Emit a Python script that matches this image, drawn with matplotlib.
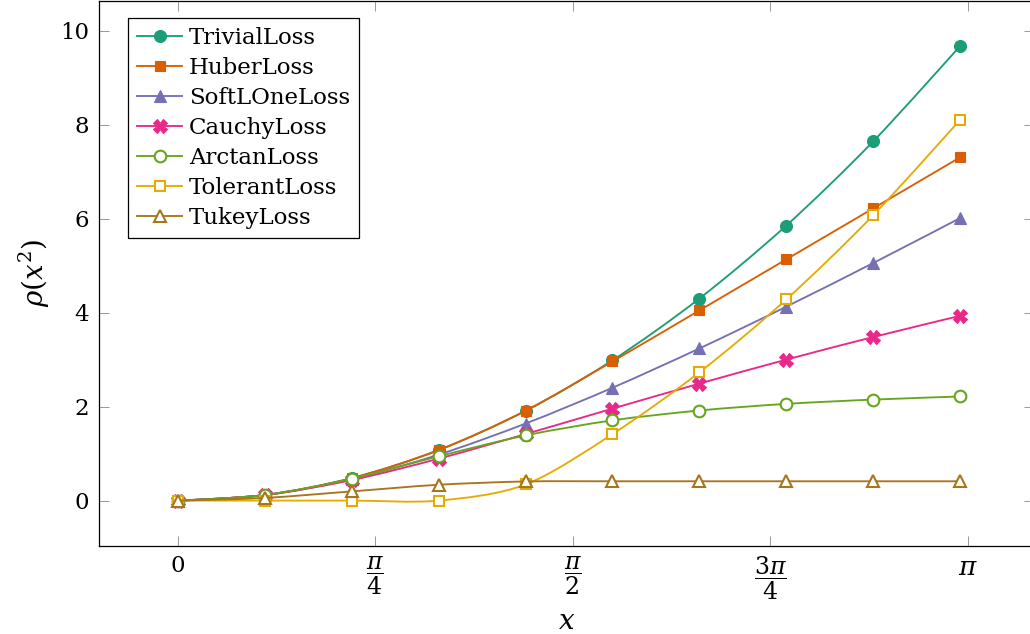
import numpy as np
import matplotlib
matplotlib.use("Agg")
import matplotlib.pyplot as plt
from matplotlib.path import Path
from matplotlib.patches import PathPatch
from matplotlib.lines import Line2D

plt.rcParams["font.family"] = ["DejaVu Serif"]
plt.rcParams["mathtext.fontset"] = "dejavuserif"

# sample points (0 .. ~3.11, 10 samples)
x = [0.0, 0.3456, 0.6911, 1.0367, 1.3822, 1.7278, 2.0733, 2.4189, 2.7644, 3.11]

trivial = [0.0, 0.119, 0.478, 1.075, 1.911, 2.985, 4.299, 5.851, 7.642, 9.672]
huber = [0.0, 0.119, 0.478, 1.075, 1.911, 2.961, 4.046, 5.132, 6.217, 7.303]
soft_l_one = [0.0, 0.118, 0.457, 0.978, 1.639, 2.401, 3.237, 4.126, 5.054, 6.011]
cauchy = [0.0, 0.117, 0.437, 0.892, 1.415, 1.957, 2.489, 2.999, 3.480, 3.931]
arctan = [0.0, 0.119, 0.464, 0.943, 1.387, 1.707, 1.917, 2.058, 2.149, 2.215]
tolerant = [0.0, 0.0, 0.0, 0.0, 0.343, 1.415, 2.728, 4.280, 6.071, 8.101]
tukey = [0.0, 0.057, 0.196, 0.337, 0.407, 0.411, 0.411, 0.411, 0.411, 0.411]

names = ["TrivialLoss", "HuberLoss", "SoftLOneLoss", "CauchyLoss",
         "ArctanLoss", "TolerantLoss", "TukeyLoss"]
series = [trivial, huber, soft_l_one, cauchy, arctan, tolerant, tukey]

colors = ["#1b9e77", "#d95f02", "#7570b3", "#e7298a", "#66a61e", "#e6ab02", "#a6761d"]
markers = ["o", "s", "^", "X", "o", "s", "^"]
msizes = [8.6, 7.8, 9.2, 9.5, 8.4, 7.6, 9.0]
filled = [True, True, True, True, False, False, False]

xticks = [0, np.pi / 4, np.pi / 2, 3 * np.pi / 4, np.pi]
xticklabels = ["$0$", r"$\dfrac{\pi}{4}$", r"$\dfrac{\pi}{2}$", r"$\dfrac{3\pi}{4}$", r"$\pi$"]
yticks = [0, 2, 4, 6, 8, 10]


def smooth_path(xs, ys, tension=0.55):
    # same idea as the tikz "smooth" plot handler
    pts = np.column_stack([xs, ys])
    f = tension * 0.2775
    n = len(pts)
    verts = [pts[0]]
    codes = [Path.MOVETO]
    for i in range(n - 1):
        p0, p1 = pts[i], pts[i + 1]
        c1 = p0 + f * (pts[i + 1] - pts[i - 1]) if i > 0 else p0
        c2 = p1 - f * (pts[i + 2] - pts[i]) if i + 2 < n else p1
        verts += [c1, c2, p1]
        codes += [Path.CURVE4] * 3
    return Path(verts, codes)


fig = plt.figure(figsize=(10.3, 6.34), dpi=100)
ax = fig.add_axes([99 / 1030, 88 / 634, 935 / 1030, 545 / 634])

fs = 16.5
lw = 1.35
handles = []
for i, (name, ys) in enumerate(zip(names, series)):
    c = colors[i]
    mfc = c if filled[i] else "white"
    mew = 0.8 if filled[i] else 1.5
    patch = PathPatch(smooth_path(x, ys), facecolor="none", edgecolor=c,
                      lw=lw, zorder=2 + i)
    ax.add_patch(patch)
    ax.plot(x, ys, ls="none", marker=markers[i], ms=msizes[i], mfc=mfc,
            mec=c, mew=mew, zorder=2.5 + i, clip_on=False)
    handles.append(Line2D([0], [0], color=c, lw=lw, marker=markers[i],
                          ms=msizes[i], mfc=mfc, mec=c, mew=mew))

ax.set_xlim(-0.314, 3.404)
ax.set_ylim(-0.966, 10.63)

ax.set_xticks(xticks)
ax.set_xticklabels(xticklabels)
ax.set_yticks(yticks)
ax.tick_params(direction="in", length=7.2, width=0.7, color="#999999",
               labelsize=fs, top=True, right=True)
ax.tick_params(axis="x", pad=6.5)
ax.tick_params(axis="y", pad=7)
xlabs = ax.get_xticklabels()
for lab in xlabs[1:4]:
    lab.set_fontsize(17)
xlabs[4].set_fontsize(19)
for sp in ax.spines.values():
    sp.set_linewidth(0.9)

ax.set_xlabel("$x$", fontsize=20, labelpad=4)
ax.set_ylabel(r"$\rho(x^2)$", fontsize=20, labelpad=6)

leg = ax.legend(handles, names, loc="upper left", bbox_to_anchor=(0.031, 0.969),
                borderaxespad=0, fontsize=fs, handlelength=1.96, handletextpad=0.3,
                labelspacing=0.35, borderpad=0.4, fancybox=False, framealpha=1,
                edgecolor="black")
leg.get_frame().set_linewidth(0.9)
leg.set_zorder(20)

fig.savefig("out.png", dpi=100)
